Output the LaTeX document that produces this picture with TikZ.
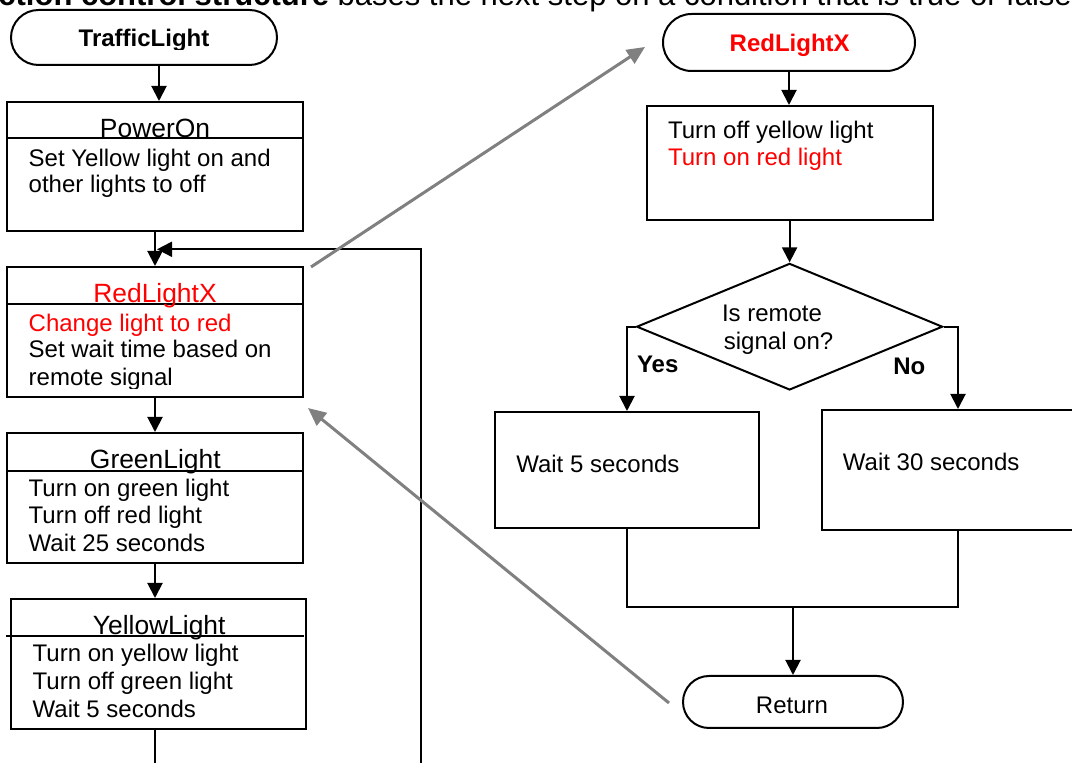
\documentclass[tikz,border=0pt]{standalone}
\usepackage{fontspec}
\setmainfont{Liberation Sans}
\usetikzlibrary{arrows.meta,shapes.misc,shapes.geometric,calc}
\definecolor{alertred}{RGB}{255,0,0}
\definecolor{linkgray}{RGB}{128,128,128}

\begin{document}
\begin{tikzpicture}[x=0.5pt,y=-0.5pt,
  box/.style={draw, line width=1pt, rectangle, inner sep=0pt},
  term/.style={draw, line width=1pt, rounded rectangle, inner sep=0pt},
  flow/.style={line width=1pt},
  arr/.style={flow, -{Triangle[width=7.5pt,length=7.5pt]}},
  jump/.style={line width=1.5pt, draw=linkgray, -{Triangle[width=8pt,length=9pt]}},
  body/.style={anchor=base west, inner sep=0pt, font=\fontsize{12}{14}\selectfont},
  title/.style={anchor=base, inner sep=0pt, font=\fontsize{13.2}{15}\selectfont},
  btitle/.style={anchor=base, inner sep=0pt, font=\fontsize{12}{14}\selectfont\bfseries},
]
\clip (0,0) rectangle (1072,763);
\fill[white] (0,0) rectangle (1072,763);

% heading line, running off the top edge
\node[anchor=base west, inner sep=0pt, font=\fontsize{15.5}{18}\selectfont] (head) at (-2,5.5)
  {\textbf{ction control structure} bases the next step on a condition that is true or false};

% ---------- main sequence ----------
\node[term, minimum width=133pt, minimum height=27.5pt] (tl) at (144,37.5) {};
\begin{scope}
  \clip (0,0) rectangle (1072,49.5);
  \node[btitle] (tltext) at (144,47) {TrafficLight};
\end{scope}

\node[box, minimum width=148pt, minimum height=64.5pt] (po) at (155,166.5) {};
\draw[flow] (po.west |- 0,138) -- (po.east |- 0,138);
\node[title] (potitle) at (155,137.3) {PowerOn};
\node[body] (po1) at (28.3,166.7) {Set Yellow light on and};
\node[body] (po2) at (28.3,193) {other lights to off};

\node[box, minimum width=148pt, minimum height=65pt] (rl) at (155,332) {};
\draw[flow] (rl.west |- 0,304.3) -- (rl.east |- 0,304.3);
\node[title, text=alertred] (rltitle) at (155,303) {RedLightX};
\node[body, text=alertred] (rl1) at (28.3,331.7) {Change light to red};
\node[body] (rl2) at (28.3,358) {Set wait time based on};
\begin{scope}
  \clip (0,0) rectangle (1072,389);
  \node[body] (rl3) at (28.3,385.7) {remote signal};
\end{scope}

\node[box, minimum width=148pt, minimum height=65pt] (gl) at (155,498) {};
\draw[flow] (gl.west |- 0,470.7) -- (gl.east |- 0,470.7);
\node[title] (gltitle) at (155.3,468.3) {GreenLight};
\node[body] (gl1) at (28.3,496.7) {Turn on green light};
\node[body] (gl2) at (28.3,524) {Turn off red light};
\node[body] (gl3) at (28.3,551.7) {Wait 25 seconds};

\node[box, minimum width=147.5pt, minimum height=65pt] (yl) at (158.5,664) {};
\draw[flow] (gl.west |- 0,636) -- (gl.east |- 0,636);
\node[title] (yltitle) at (159.2,634.3) {YellowLight};
\node[body] (yl1) at (32.3,661.7) {Turn on yellow light};
\node[body] (yl2) at (32.3,689.3) {Turn off green light};
\node[body] (yl3) at (32.3,717.3) {Wait 5 seconds};

% sequence connectors
\draw[arr] (tl.south -| 159,0) -- (po.north -| 159,0);
\draw[arr] (po.south) -- (rl.north);
\draw[arr] (rl.south) -- (gl.north);
\draw[arr] (gl.south) -- (gl.south |- yl.north);
\coordinate (outl) at (155,800);
\draw[flow] (yl.south -| gl.south) -- (outl);

% loop back to RedLightX
\coordinate (loopb) at (421,800);
\coordinate (loopt) at (421,249.3);
\draw[arr] (loopb) -- (loopt) -- (157,249.3);

% ---------- RedLightX subroutine ----------
\node[term, minimum width=126pt, minimum height=28.5pt] (rt) at (789,42.5) {};
\node[btitle, text=alertred] (rttext) at (789.7,51.7) {RedLightX};

\node[box, minimum width=143pt, minimum height=57pt] (b1) at (790,163) {};
\node[body] (b1a) at (667.7,138.3) {Turn off yellow light};
\node[body, text=alertred] (b1b) at (667.7,165.7) {Turn on red light};

\node[draw, line width=1pt, diamond, inner sep=0pt, minimum width=153pt, minimum height=63.3pt] (dia) at (789.6,326.7) {};
\node[body] (dia1) at (721.6,321.7) {Is remote};
\node[body] (dia2) at (723.5,349.3) {signal on?};

\node[body, font=\fontsize{12}{14}\selectfont\bfseries] (yes) at (636.6,372.7) {Yes};
\node[body, font=\fontsize{12}{14}\selectfont\bfseries] (no) at (893,375) {No};

\node[box, minimum width=132pt, minimum height=58pt] (yb) at (627,470) {};
\node[body] (yb1) at (515.9,472.3) {Wait 5 seconds};
\node[box, minimum width=136pt, minimum height=60pt] (nb) at (958,470) {};
\node[body] (nb1) at (842.5,470.7) {Wait 30 seconds};

\node[term, minimum width=110pt, minimum height=26pt] (ret) at (793,702) {};
\node[body, anchor=base] (rettext) at (792,713.3) {Return};

% subroutine connectors
\draw[arr] (rt.south) -- (rt.south |- b1.north);
\draw[arr] (b1.south -| dia.north) -- (dia.north);
\draw[arr] (dia.west) -| (yb.north);
\draw[arr] (dia.east) -| (nb.north);
\coordinate (merge) at (ret.north |- 0,606.7);
\draw[flow] (yb.south) |- (merge) -| (nb.south);
\draw[arr] (merge) -- (ret.north);

% call and return links
\draw[jump] ([shift={(7,1)}]rl.north east) -- ([shift={(-17,4.5)}]rt.west);
\draw[jump] ([shift={(-13,1)}]ret.west) -- ([shift={(4,10)}]rl.south east);
\end{tikzpicture}
\end{document}
